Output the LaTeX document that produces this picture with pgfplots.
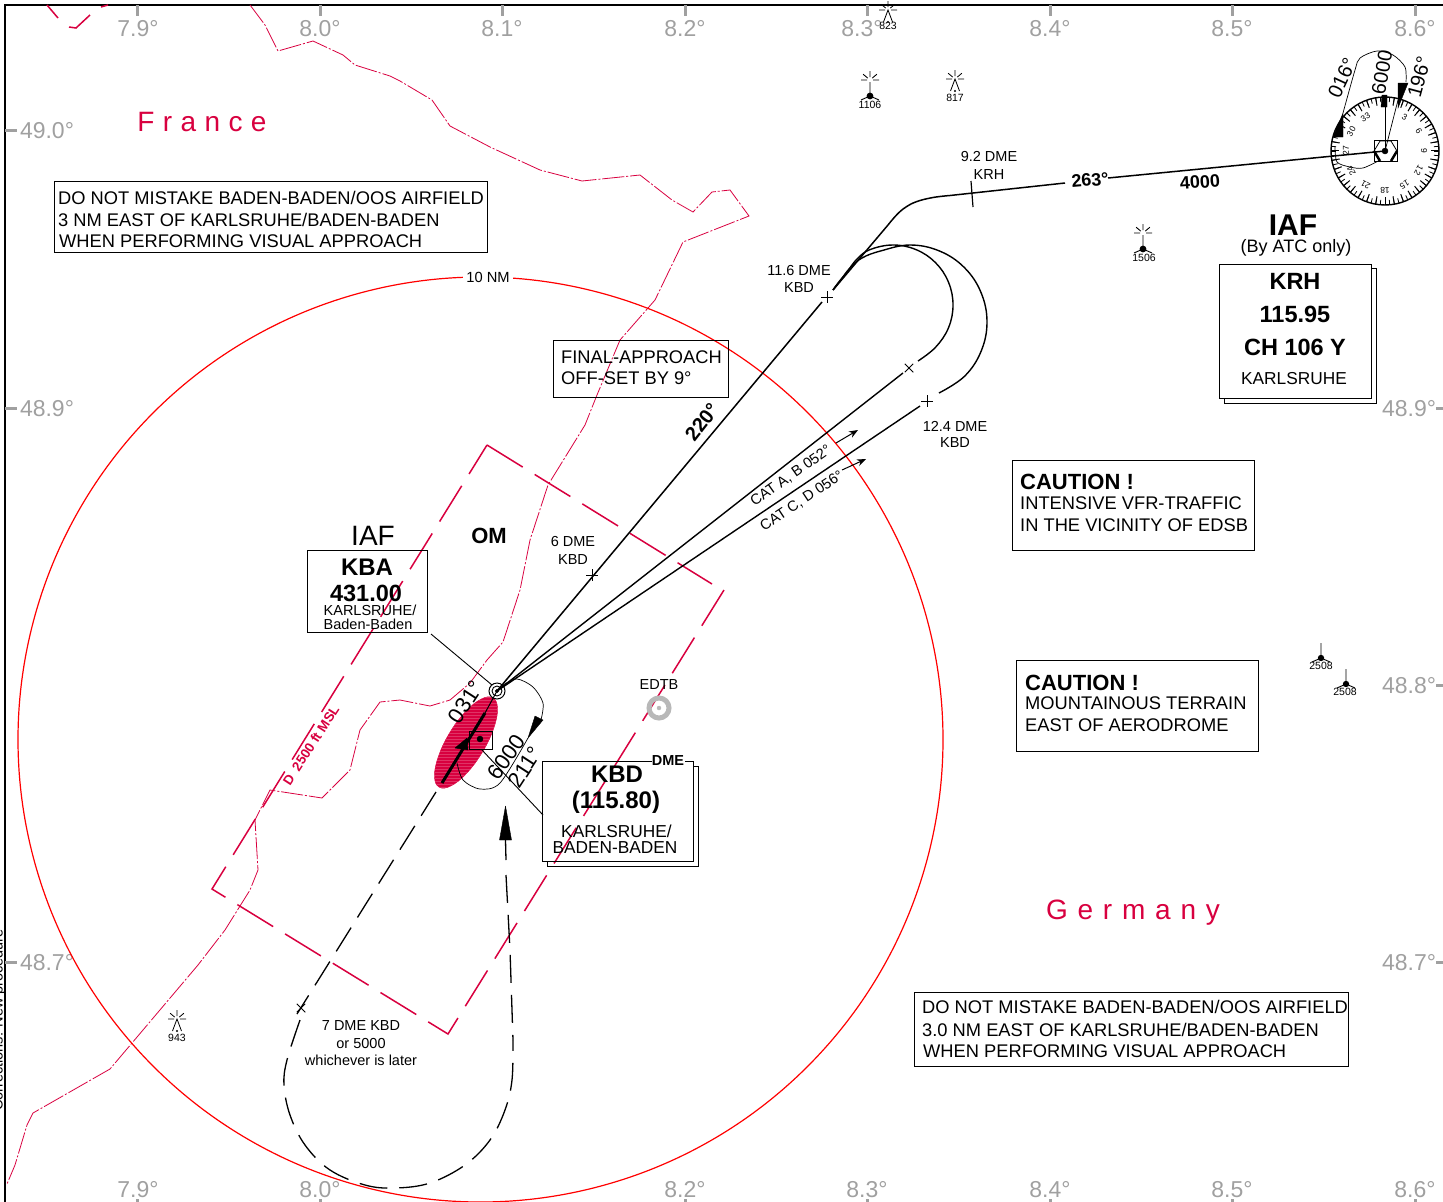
\documentclass[border=0pt]{standalone}
\usepackage{pgfplots}
\pgfplotsset{compat=1.18}
\usetikzlibrary{arrows.meta,patterns}
\usepackage{fontspec}
\setmainfont{Liberation Sans}
\definecolor{zone}{HTML}{D8003F}
\definecolor{gridg}{HTML}{A0A0A0}
\newcommand{\fs}[1]{\fontsize{#1}{#1}\selectfont}
% text helpers: coordinates are picture pixels, y downwards
\newcommand{\lbl}[4][]{\node[inner sep=0pt,font=\fs{#2},#1] at (axis cs:#3) {#4};}
\newcommand{\tl}[3]{\node[inner sep=0pt,anchor=west,font=\fs{18.3}] at (axis cs:#1,#2) {#3};}
\newcommand{\rect}[4]{\addplot[black,line width=1pt] coordinates {(#1,#2)(#3,#2)(#3,#4)(#1,#4)(#1,#2)};}
\newcommand{\gridlbl}[3]{\node[inner sep=0pt,text=gridg,font=\fs{23}] at (axis cs:#1,#2) {#3};}
\pgfdeclareplotmark{obst}{%
  \pgfsetlinewidth{0.8pt}
  \foreach \a in {0,40,90,140,180}{\pgfpathmoveto{\pgfqpointpolar{\a}{3pt}}\pgfpathlineto{\pgfqpointpolar{\a}{9pt}}}
  \pgfpathmoveto{\pgfqpoint{-4.5pt}{-12pt}}\pgfpathlineto{\pgfqpoint{0pt}{0pt}}\pgfpathlineto{\pgfqpoint{4.5pt}{-12pt}}
  \pgfusepathqstroke
  \pgfpathcircle{\pgfqpoint{0pt}{-12pt}}{1.2pt}\pgfusepathqfill}
\pgfdeclareplotmark{obstb}{%
  \pgfsetlinewidth{0.9pt}
  \foreach \a in {0,40,90,140,180}{\pgfpathmoveto{\pgfqpointpolar{\a}{3pt}}\pgfpathlineto{\pgfqpointpolar{\a}{9pt}}}
  \pgfpathmoveto{\pgfqpoint{0pt}{-2pt}}\pgfpathlineto{\pgfqpoint{0pt}{-16pt}}
  \pgfpathmoveto{\pgfqpoint{-9pt}{-20pt}}\pgfpathlineto{\pgfqpoint{0pt}{-16pt}}\pgfpathlineto{\pgfqpoint{9pt}{-20pt}}
  \pgfusepathqstroke
  \pgfpathcircle{\pgfqpoint{0pt}{-16pt}}{3.4pt}\pgfusepathqfill}
\pgfdeclareplotmark{obstc}{%
  \pgfsetlinewidth{0.9pt}
  \pgfpathmoveto{\pgfqpoint{0pt}{0pt}}\pgfpathlineto{\pgfqpoint{0pt}{-15pt}}
  \pgfpathmoveto{\pgfqpoint{-9pt}{-19pt}}\pgfpathlineto{\pgfqpoint{0pt}{-15pt}}\pgfpathlineto{\pgfqpoint{9pt}{-19pt}}
  \pgfusepathqstroke
  \pgfpathcircle{\pgfqpoint{0pt}{-15pt}}{3.2pt}\pgfusepathqfill}
\begin{document}
\begin{tikzpicture}
\useasboundingbox (0,0) rectangle (1443pt,1202pt);
\clip (0,0) rectangle (1443pt,1202pt);
\begin{axis}[
    at={(0,0)}, anchor=south west,
    scale only axis, width=1443pt, height=1202pt,
    xmin=0, xmax=1443, ymin=0, ymax=1202,
    y dir=reverse,
    axis lines=none,
    clip=true,
    unbounded coords=jump
]
% frame
\addplot[black,line width=1.4pt] coordinates {(5,1202)(5,5)(1443,5)};
% lat/lon ticks
\addplot[gridg,line width=3pt] coordinates {
  (137,5)(137,16)(0,nan)(320,5)(320,16)(0,nan)(502,5)(502,16)(0,nan)(685,5)(685,16)(0,nan)
  (867,5)(867,16)(0,nan)(1050,5)(1050,16)(0,nan)(1232,5)(1232,16)(0,nan)(1415,5)(1415,16)(0,nan)
  (5,130)(17,130)(0,nan)(5,408)(17,408)(0,nan)(5,962)(17,962)(0,nan)
  (1436,408)(1443,408)(0,nan)(1436,685)(1443,685)(0,nan)(1436,962)(1443,962)(0,nan)
  (137,1199)(137,1202)(0,nan)(320,1199)(320,1202)(0,nan)(685,1199)(685,1202)(0,nan)
  (867,1199)(867,1202)(0,nan)(1050,1199)(1050,1202)(0,nan)(1232,1199)(1232,1202)(0,nan)(1415,1199)(1415,1202)
};
\gridlbl{138}{29}{7.9°}\gridlbl{320}{29}{8.0°}\gridlbl{502}{29}{8.1°}\gridlbl{685}{29}{8.2°}
\gridlbl{862}{29}{8.3°}\gridlbl{1050}{29}{8.4°}\gridlbl{1232}{29}{8.5°}\gridlbl{1415}{29}{8.6°}
\gridlbl{47}{131}{49.0°}\gridlbl{47}{409}{48.9°}\gridlbl{47}{963}{48.7°}
\gridlbl{1409}{409}{48.9°}\gridlbl{1409}{686}{48.8°}\gridlbl{1409}{963}{48.7°}
\gridlbl{138}{1190}{7.9°}\gridlbl{320}{1190}{8.0°}\gridlbl{685}{1190}{8.2°}
\gridlbl{867}{1190}{8.3°}\gridlbl{1050}{1190}{8.4°}\gridlbl{1232}{1190}{8.5°}\gridlbl{1415}{1190}{8.6°}
% state border
\addplot[zone,line width=0.8pt,dash pattern=on 22pt off 2pt on 2pt off 2pt] coordinates {
  (250,5)(265,25)(278,51)(313,41)(343,55)(355,65)(390,76)(400,81)(432,100)(450,126)(490,147)
  (540,170)(582,181)(640,175)(672,200)(693,212)(712,192)(730,190)(749,216)(683,242)(655,300)
  (620,340)(597,395)(585,425)(548,485)(530,540)(520,590)(503,642)(487,660)(470,683)(450,700)
  (430,706)(400,700)(380,702)(360,730)(350,770)(322,798)(270,790)(255,820)(258,870)(250,890)
  (225,930)(198,965)(132,1043)(110,1069)(33,1113)(27,1125)(15,1165)(7,1184)
};
% restricted area
\addplot[zone,line width=1.5pt,dash pattern=on 42pt off 14pt] coordinates {(487,445)(712,584)};
\addplot[zone,line width=1.5pt,dash pattern=on 42pt off 14pt] coordinates {
  (724,590)(448,1034)(212,889)(487,445)};
\addplot[zone,line width=1.5pt] coordinates {(47,5)(58,18)};
\addplot[zone,line width=1.5pt] coordinates {(69,27)(76,28)(90,15)};
\addplot[zone,line width=1.5pt] coordinates {(101,7)(108,5)};
% 10 NM circle
\addplot[red,line width=1.2pt,smooth cycle,tension=0.61] coordinates {
  (943,739.5)(927.2,619.8)(881,508.3)(807.5,412.5)(711.8,339)(600.2,292.8)(480.5,277)
  (360.8,292.8)(249.3,339)(153.5,412.5)(80,508.3)(33.8,619.8)(18,739.5)(33.8,859.2)
  (80,970.8)(153.5,1066.5)(249.3,1140)(360.8,1186.2)(480.5,1202)(600.2,1186.2)(711.8,1140)
  (807.5,1066.5)(881,970.8)(927.2,859.2)};
\lbl[fill=white,inner xsep=3pt,inner ysep=1pt]{14.7}{488,277}{10 NM}
% runway ellipse
\addplot[zone,fill=zone,smooth cycle,tension=0.7] coordinates {
  (493,698)(497.5,708.9)(493.5,728.9)(482.2,752.4)(466.5,773.4)(450.7,786)(439,787)
  (434.5,776.1)(438.5,756.2)(449.8,732.6)(465.5,711.7)(481.3,699)};
\addplot[draw=none,pattern=horizontal lines,pattern color=zone!80!white,smooth cycle,tension=0.7] coordinates {
  (493,698)(497.5,708.9)(493.5,728.9)(482.2,752.4)(466.5,773.4)(450.7,786)(439,787)
  (434.5,776.1)(438.5,756.2)(449.8,732.6)(465.5,711.7)(481.3,699)};
% approach tracks
\addplot[black,line width=1.5pt] coordinates {(497,691)(822,302)};
\addplot[black,line width=1.4pt] coordinates {(497,691)(903,373)};
\addplot[black,line width=1.4pt] coordinates {(497,691)(920,406)};
\addplot[black,line width=1.5pt] coordinates {(833,290)(888,225)};
\addplot[black,line width=1.5pt,smooth,tension=0.7] coordinates {
  (888,225)(897,214.5)(906,207)(917,201.5)(933,197.5)(950,195.5)};
\addplot[black,line width=1.5pt] coordinates {(950,195.5)(1065,183)};
\addplot[black,line width=1.5pt] coordinates {(1108,178)(1385,151)};
\addplot[black,line width=1.2pt] coordinates {(971,181)(973,207)};
\addplot[black,line width=1.4pt,smooth,tension=0.65] coordinates {
  (918,361)(935.4,347.4)(948.4,328)(953,305)(948.4,282)(935.4,262.6)(916,249.6)(893,245)(870,249.6)(857,259)(847,272)(838,283)(833,290)};
\addplot[black,line width=1.4pt,smooth,tension=0.65] coordinates {
  (939,393)(964.4,376.4)(981,351.5)(987,322)(981,292.5)(964.4,267.6)(939.5,251)(910,245)(880.5,251)(862,258)(850,268)(840,281)(833,290)};
% fixes
\addplot[only marks,mark=+,mark size=6pt,mark options={black,line width=0.9pt}] coordinates {
  (827,297)(592,575)(927,401)};
\addplot[only marks,mark=x,mark size=6pt,mark options={black,line width=0.9pt}] coordinates {
  (909,368)(301,1008)};
% CAT arrows
\addplot[black,line width=1pt,-{Stealth[length=9pt,width=7pt]}] coordinates {(836,443)(858,430)};
\addplot[black,line width=1pt,-{Stealth[length=9pt,width=7pt]}] coordinates {(842,470)(866,459)};
% missed approach / reversal
\addplot[black,line width=1.3pt,dash pattern=on 28pt off 12pt] coordinates {(436,792)(297,1014)};
\addplot[black,line width=1.3pt,smooth,tension=0.6,dash pattern=on 28pt off 12pt] coordinates {
  (300,1020)(287,1060)(284,1085)(290,1115)(305,1145)(330,1170)(365,1185)(395,1188)(430,1183)(465,1165)(490,1140)(505,1110)(512,1080)(513,1040)};
\addplot[black,line width=1.3pt,dash pattern=on 28pt off 12pt] coordinates {(506,875)(510,950)(513,1040)};
\addplot[black,line width=1.3pt] coordinates {(505.5,840)(506,860)};
\addplot[black,fill=black] coordinates {(505.5,806)(511.5,840)(499.5,840)(505.5,806)};
% runway centreline and arrow
\addplot[black,line width=1pt] coordinates {(497,691)(485,713)};
\addplot[black,line width=3pt] coordinates {(485,713)(442,783)};
\addplot[black,fill=black] coordinates {(467,738)(455,748)(468,750)(467,738)};
% hold at the beacon
\addplot[black,line width=0.7pt,smooth] coordinates {(503,685)(517,679)(533,687)(543,703)(541,720)};
\addplot[black,line width=0.7pt,smooth] coordinates {(528,738)(500,783)(480,789)(463,780)(457,763)};
\addplot[black,fill=black] coordinates {(535,716)(543,720)(528,738)(535,716)};
% beacons and box at the DME
\addplot[only marks,mark=o,mark size=8pt,mark options={black,line width=1pt}] coordinates {(497,691)};
\addplot[only marks,mark=o,mark size=5pt,mark options={black,line width=0.9pt}] coordinates {(497,691)};
\addplot[only marks,mark=*,mark size=1.8pt,mark options={black}] coordinates {(497,691)};
\rect{469}{731}{492}{749}
\addplot[only marks,mark=*,mark size=3pt,mark options={black}] coordinates {(480,739)};
\addplot[black,line width=0.9pt] coordinates {(431,634)(492,685)};
\addplot[black,line width=0.9pt] coordinates {(482,750)(543,815)};
\addplot[only marks,mark=o,mark size=10pt,mark options={draw=black!28,line width=5pt}] coordinates {(659,708)};
\addplot[only marks,mark=*,mark size=2pt,mark options={black!28}] coordinates {(659,708)};
% obstacles
\addplot[only marks,mark=obst,mark options={black}] coordinates {(955,79)(177,1019)(888,10)};
\addplot[only marks,mark=obstb,mark options={black}] coordinates {(870,80)(1143,233)};
\addplot[only marks,mark=obstc,mark options={black}] coordinates {(1321,643)(1346,669)};
\lbl{10.5}{870,105}{1106}\lbl{10.5}{955,98}{817}\lbl{10.5}{1144,258}{1506}\lbl{10.5}{177,1038}{943}
\lbl{10.5}{888,26}{823}\lbl{10.5}{1321,666}{2508}\lbl{10.5}{1345,692}{2508}
% text boxes
\rect{54}{181}{487}{252}
\tl{58}{197.5}{DO NOT MISTAKE BADEN-BADEN/OOS AIRFIELD}
\tl{58}{219.5}{3 NM EAST OF KARLSRUHE/BADEN-BADEN}
\tl{59}{241.5}{WHEN PERFORMING VISUAL APPROACH}
\rect{553}{340}{728}{397}
\tl{561}{357.5}{FINAL-APPROACH}
\tl{561}{378.5}{OFF-SET BY 9°}
\rect{1012}{460}{1254}{550}
\lbl[anchor=west,font=\fs{22}\bfseries]{22}{1020,481.5}{CAUTION !}
\tl{1020}{503}{INTENSIVE VFR-TRAFFIC}
\tl{1020}{525}{IN THE VICINITY OF EDSB}
\rect{1016}{660}{1258}{751}
\lbl[anchor=west,font=\fs{22}\bfseries]{22}{1025,682.5}{CAUTION !}
\tl{1025}{703.5}{MOUNTAINOUS TERRAIN}
\tl{1025}{725.5}{EAST OF AERODROME}
\rect{914}{992}{1348}{1066}
\tl{922}{1006.5}{DO NOT MISTAKE BADEN-BADEN/OOS AIRFIELD}
\tl{922}{1029.5}{3.0 NM EAST OF KARLSRUHE/BADEN-BADEN}
\tl{923}{1051.5}{WHEN PERFORMING VISUAL APPROACH}
% KRH box
\rect{1219}{264}{1371}{398}
\addplot[black,line width=1pt] coordinates {(1371,268)(1376,268)(1376,403)(1224,403)(1224,398)};
\lbl[font=\fs{30}\bfseries]{30}{1293,225}{IAF}
\lbl{18}{1296,248}{(By ATC only)}
\lbl[font=\fs{23.5}\bfseries]{23.5}{1295,281}{KRH}
\lbl[font=\fs{23.5}\bfseries]{23.5}{1295,314.5}{115.95}
\lbl[font=\fs{23.5}\bfseries]{23.5}{1295,347.5}{CH 106 Y}
\lbl{17.3}{1294,379}{KARLSRUHE}
% KBA box
\rect{307}{550}{427}{632}
\lbl{28}{373,536}{IAF}
\lbl[font=\fs{24}\bfseries]{24}{367,567}{KBA}
\lbl[font=\fs{23.5}\bfseries]{23.5}{366,593}{431.00}
\lbl{14.5}{370,610}{KARLSRUHE/}
\lbl{14.5}{368,624}{Baden-Baden}
% KBD box
\addplot[black,line width=1pt] coordinates {(652,761)(542,761)(542,861)(693,861)(693,761)(685,761)};
\addplot[black,line width=1pt] coordinates {(693,766)(698,766)(698,866)(547,866)(547,861)};
\lbl[font=\fs{14.5}\bfseries]{14.5}{668,761}{DME}
\lbl[font=\fs{24}\bfseries]{24}{617,774}{KBD}
\lbl[font=\fs{24}\bfseries]{24}{616,802}{(115.80)}
\lbl{17.3}{616.5,831}{KARLSRUHE/}
\lbl{17.3}{615,848}{BADEN-BADEN}
% free labels
\lbl[text=zone,font=\fs{28}\addfontfeature{LetterSpace=30}]{28}{202,122}{France}
\lbl[text=zone,font=\fs{28}\addfontfeature{LetterSpace=35}]{28}{1133,913}{Germany}
\lbl[text=zone,rotate=57,font=\fs{13.5}\bfseries]{13.5}{311,745}{D\enspace 2500 ft MSL}
\lbl[font=\fs{22}\bfseries]{22}{489,536}{OM}
\lbl{14.5}{573,542}{6 DME}\lbl{14.5}{573,560}{KBD}
\lbl{14.5}{799,271}{11.6 DME}\lbl{14.5}{799,288}{KBD}
\lbl{14.5}{989,157}{9.2 DME}\lbl{14.5}{989,175}{KRH}
\lbl{14.5}{955,426}{12.4 DME}\lbl{14.5}{955,443}{KBD}
\lbl{14.5}{659,685}{EDTB}
\lbl{14.5}{361,1025}{7 DME KBD}\lbl{14.5}{361,1043}{or 5000}\lbl{14.5}{361,1060}{whichever is later}
\lbl[rotate=52,font=\fs{20}\bfseries]{20}{702,422}{220°}
\lbl[rotate=5,font=\fs{18}\bfseries]{18}{1090,180}{263°}
\lbl[rotate=4,font=\fs{18}\bfseries]{18}{1200,182}{4000}
\lbl[rotate=35]{14.7}{791,476}{CAT A, B 052°}
\lbl[rotate=33.5]{14.7}{802,501}{CAT C, D 056°}
\lbl[rotate=57]{22}{466,702}{031°}
\lbl[rotate=55]{22}{506,757}{6000}
\lbl[rotate=57]{22}{525,767}{211°}
\lbl[rotate=65]{20}{1342,78}{016°}
\lbl[rotate=80]{20}{1382,72}{6000}
\lbl[rotate=75]{20}{1419,77}{196°}
\lbl[rotate=90]{14.5}{-1,1020}{Corrections: New procedure}
% hold at KRH
\addplot[black,line width=0.7pt] coordinates {(1385,151)(1385,100)};
\addplot[black,line width=0.7pt] coordinates {(1385,151)(1398,100)};
\addplot[black,fill=black] coordinates {(1382,95)(1387,95)(1387,107)(1381,107)(1382,95)};
\addplot[black,fill=black] coordinates {(1398,83)(1408,83)(1398,108)(1398,83)};
\addplot[black,fill=black] coordinates {(1343,113)(1333,137)(1343,137)(1343,113)};
\addplot[black,line width=0.7pt,smooth] coordinates {
  (1406,82)(1405,67)(1393,55)(1377,51)(1360,58)(1355,70)(1343,113)};
\addplot[black,line width=0.7pt,smooth] coordinates {
  (1335,147)(1337,162)(1350,167)(1363,168)(1380,160)};
\rect{1374}{140}{1397}{161}
\addplot[black,line width=0.8pt] coordinates {(1374,151)(1380,141)(1391,141)(1397,151)};
\addplot[black,line width=2.5pt] coordinates {(1374,151)(1380,161)};
\addplot[black,line width=2.5pt] coordinates {(1397,151)(1391,161)};
\addplot[only marks,mark=*,mark size=3pt,mark options={black}] coordinates {(1385,151)};
\end{axis}
% compass rose at KRH
\begin{scope}[shift={(1385pt,1051pt)}]
\draw[line width=1.4pt] (0,0) circle (54pt);
\foreach \a in {0,5,...,355}{\draw[line width=0.8pt] (\a:54pt) -- (\a:49pt);}
\foreach \a in {0,10,...,350}{\draw[line width=1pt] (\a:54pt) -- (\a:46pt);}
\foreach \b/\t in {3/3,6/6,9/9,12/12,15/15,18/18,21/21,24/24,27/27,30/30,33/33}{
  \node[inner sep=0pt,font=\fs{8.5},rotate=-\b*10] at ({90-\b*10}:39pt) {\t};}
\end{scope}
\end{tikzpicture}
\end{document}
